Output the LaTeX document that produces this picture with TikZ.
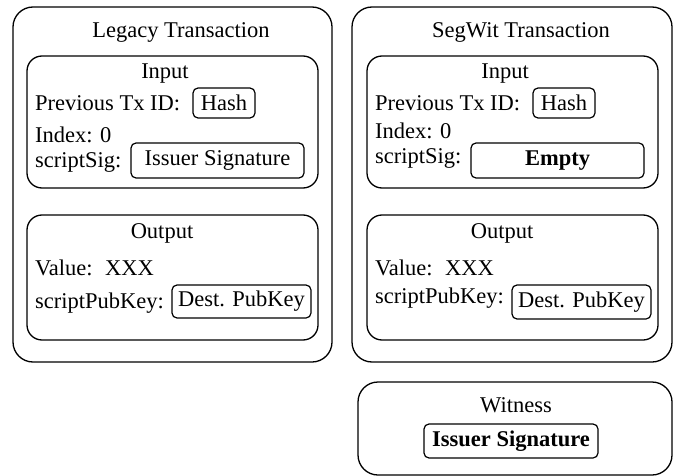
\documentclass[tikz,border=0pt]{standalone}
\usepackage{fontspec}
\setmainfont{Liberation Serif}
\usepackage{tikz}
\tikzset{
	outerbox/.style={line width=1.3pt, rounded corners=20pt},
	innerbox/.style={line width=1.3pt, rounded corners=15pt},
	valbox/.style={draw, line width=1.2pt, rounded corners=5pt, inner sep=0pt},
	lbl/.style={anchor=west, inner sep=0pt},
	ttl/.style={inner sep=0pt}
}

\begin{document}
\begin{tikzpicture}[x=1pt, y=-1pt, font=\fontsize{22.5}{26}\selectfont]
			\useasboundingbox (0,0) rectangle (674,476);
			\draw[outerbox] (13,7) rectangle (332,362);
			\draw[innerbox] (27,56) rectangle (318,188);
			\draw[innerbox] (27,215) rectangle (318,340);
			\draw[outerbox] (352,7) rectangle (672,362);
			\draw[innerbox] (367,56) rectangle (658,188);
			\draw[innerbox] (367,215) rectangle (658,340);
			\draw[outerbox] (358,382) rectangle (672,475);
			\node[ttl] (legacy) at (181,32) {Legacy Transaction};
			\node[ttl] (linput) at (165,74) {Input};
			\node[lbl] (lprev) at (35,103) {Previous Tx ID:};
			\node[valbox, minimum width=62pt, minimum height=30pt] (lhash) at (224,103) {Hash};
			\node[lbl] (lindex) at (35,135) {Index: 0};
			\node[lbl] (lsig) at (35,162) {scriptSig:};
			\node[valbox, minimum width=173pt, minimum height=35pt] (lsigval) at (217.5,160.5) {Issuer Signature};
			\node[ttl] (loutput) at (162,233) {Output};
			\node[lbl] (lvalue) at (35,268) {Value:\hspace{0.55em}XXX};
			\node[lbl] (lpub) at (35,303) {scriptPubKey:};
			\node[valbox, minimum width=139pt, minimum height=33pt] (lpubval) at (241.5,301.5) {Dest. PubKey};
			\node[ttl] (segwit) at (521,32) {SegWit Transaction};
			\node[ttl] (rinput) at (505,74) {Input};
			\node[lbl] (rprev) at (375,103) {Previous Tx ID:};
			\node[valbox, minimum width=62pt, minimum height=30pt] (rhash) at (564,103) {Hash};
			\node[lbl] (rindex) at (375,131) {Index: 0};
			\node[lbl] (rsig) at (375,158) {scriptSig:};
			\node[valbox, minimum width=173pt, minimum height=35pt] (rsigval) at (557.5,160.5) {\textbf{Empty}};
			\node[ttl] (routput) at (502,233) {Output};
			\node[lbl] (rvalue) at (375,268) {Value:\hspace{0.55em}XXX};
			\node[lbl] (rpub) at (375,298) {scriptPubKey:};
			\node[valbox, minimum width=139pt, minimum height=34pt] (rpubval) at (581.5,302) {Dest. PubKey};
			\node[ttl] (witness) at (516,405) {Witness};
			\node[valbox, minimum width=174pt, minimum height=34pt] (wsig) at (511,441) {\textbf{Issuer Signature}};
		\end{tikzpicture}
\end{document}
